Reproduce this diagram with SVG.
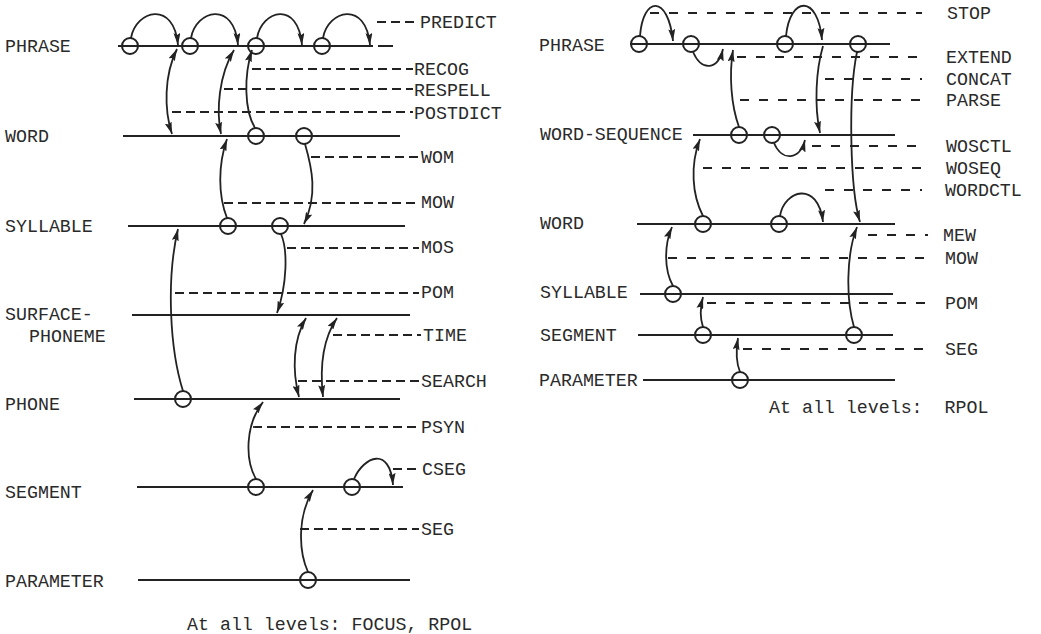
<svg xmlns="http://www.w3.org/2000/svg" width="1041" height="634" viewBox="0 0 1041 634">
<defs>
<marker id="ah" viewBox="0 0 12 7" refX="12" refY="3.5" markerWidth="12" markerHeight="7" markerUnits="userSpaceOnUse" orient="auto-start-reverse">
<path d="M0,0 L12,3.5 L0,7 L2,3.5 z" fill="#222"/>
</marker>
<style>
.lv{stroke:#222;stroke-width:2;fill:none}
.c{stroke:#222;stroke-width:2;fill:none}
.t{font-family:"Liberation Mono","DejaVu Sans Mono",monospace;font-size:18.3px;fill:#2a2a2a}
.a{stroke:#222;stroke-width:1.8;fill:none;marker-end:url(#ah)}
.b{stroke:#222;stroke-width:1.8;fill:none;marker-end:url(#ah);marker-start:url(#ah)}
.d{stroke:#222;stroke-width:1.8;stroke-dasharray:9,5;fill:none}
.d2{stroke:#222;stroke-width:1.8;stroke-dasharray:9,10;fill:none}
</style>
</defs>
<rect width="1041" height="634" fill="#fff"/>

<!-- LEFT DIAGRAM LEVELS -->
<g id="L-phrase">
<text class="t" x="5" y="52">PHRASE</text>
<line class="lv" x1="118" y1="46" x2="373" y2="46"/>
<line class="lv" x1="378" y1="46" x2="393" y2="46"/>
<circle class="c" cx="130" cy="46" r="8"/><circle class="c" cx="190" cy="46" r="8"/><circle class="c" cx="256" cy="46" r="8"/><circle class="c" cx="322" cy="46" r="8"/>
</g>
<g id="L-word">
<text class="t" x="5" y="142">WORD</text>
<line class="lv" x1="123" y1="136" x2="400" y2="136"/>
<circle class="c" cx="256" cy="136" r="8"/><circle class="c" cx="304" cy="136" r="8"/>
</g>
<g id="L-syllable">
<text class="t" x="5" y="232">SYLLABLE</text>
<line class="lv" x1="128" y1="226" x2="405" y2="226"/>
<circle class="c" cx="228" cy="226" r="8"/><circle class="c" cx="280" cy="226" r="8"/>
</g>
<g id="L-surface-phoneme">
<text class="t" x="5" y="320">SURFACE-</text>
<text class="t" x="29" y="342">PHONEME</text>
<line class="lv" x1="132" y1="315" x2="410" y2="315"/>
</g>
<g id="L-phone">
<text class="t" x="5" y="410">PHONE</text>
<line class="lv" x1="134" y1="399" x2="400" y2="399"/>
<circle class="c" cx="183" cy="399" r="8"/>
</g>
<g id="L-segment">
<text class="t" x="5" y="498">SEGMENT</text>
<line class="lv" x1="137" y1="487" x2="403" y2="487"/>
<circle class="c" cx="256" cy="487" r="8"/><circle class="c" cx="352" cy="487" r="8"/>
</g>
<g id="L-parameter">
<text class="t" x="5" y="587">PARAMETER</text>
<line class="lv" x1="138" y1="580" x2="410" y2="580"/>
<circle class="c" cx="308" cy="580" r="8"/>
</g>
<text class="t" x="187" y="630">At all levels: FOCUS, RPOL</text>

<!-- LEFT CONNECTORS -->
<g id="L-connectors">
<path class="a" d="M131,38 C136,10 174,0 178,45"/>
<path class="a" d="M191,38 C196,10 234,0 238,45"/>
<path class="a" d="M257,38 C262,10 298,0 302,45"/>
<path class="a" d="M323,38 C328,10 366,0 370,45"/>
<path class="b" d="M177,49 C164,75 164,110 172,134"/>
<path class="b" d="M234,50 C219,75 216,110 221,134"/>
<path class="a" d="M255,128 C244,110 244,75 252,50"/>
<path class="a" d="M305,144 C312,168 318,195 304,224"/>
<path class="a" d="M227,218 C218,195 218,165 227,139"/>
<path class="a" d="M183,391 C170,350 166,280 178,229"/>
<path class="a" d="M281,234 C288,250 287,285 277,313"/>
<path class="b" d="M306,318 C293,340 292,370 299,397"/>
<path class="b" d="M337,318 C322,340 320,370 323,397"/>
<path class="a" d="M256,479 C245,460 245,425 263,402"/>
<path class="a" d="M354,479 C364,456 390,446 393,485"/>
<path class="a" d="M308,572 C298,550 298,515 313,490"/>
<!-- dashed label leaders -->
<path class="d" d="M377,22 H418"/>
<path class="d" d="M252,69 H413"/>
<path class="d" d="M224,89 H413"/>
<path class="d" d="M172,112 H413"/>
<path class="d" d="M311,157 H419"/>
<path class="d" d="M224,203 H419"/>
<path class="d" d="M287,248 H419"/>
<path class="d" d="M175,293 H419"/>
<path class="d" d="M333,335 H421"/>
<path class="d" d="M298,381 H419"/>
<path class="d" d="M253,427 H419"/>
<path class="d" d="M393,469 H420"/>
<path class="d" d="M300,529 H419"/>
</g>
<g id="L-labels">
<text class="t" x="420" y="28">PREDICT</text>
<text class="t" x="414" y="75">RECOG</text>
<text class="t" x="414" y="96">RESPELL</text>
<text class="t" x="414" y="119">POSTDICT</text>
<text class="t" x="421" y="163">WOM</text>
<text class="t" x="421" y="208">MOW</text>
<text class="t" x="421" y="253">MOS</text>
<text class="t" x="421" y="298">POM</text>
<text class="t" x="423" y="341">TIME</text>
<text class="t" x="421" y="387">SEARCH</text>
<text class="t" x="421" y="433">PSYN</text>
<text class="t" x="422" y="475">CSEG</text>
<text class="t" x="421" y="535">SEG</text>
</g>

<!-- RIGHT DIAGRAM LEVELS -->
<g id="R-phrase">
<text class="t" x="539" y="51">PHRASE</text>
<line class="lv" x1="630" y1="44" x2="890" y2="44"/>
<circle class="c" cx="639" cy="44" r="8"/><circle class="c" cx="691" cy="44" r="8"/><circle class="c" cx="785" cy="44" r="8"/><circle class="c" cx="858" cy="44" r="8"/>
</g>
<g id="R-word-sequence">
<text class="t" x="540" y="140">WORD-SEQUENCE</text>
<line class="lv" x1="693" y1="135" x2="895" y2="135"/>
<circle class="c" cx="739" cy="135" r="8"/><circle class="c" cx="772" cy="135" r="8"/>
</g>
<g id="R-word">
<text class="t" x="540" y="229">WORD</text>
<line class="lv" x1="637" y1="224" x2="895" y2="224"/>
<circle class="c" cx="703" cy="224" r="8"/><circle class="c" cx="779" cy="224" r="8"/>
</g>
<g id="R-syllable">
<text class="t" x="540" y="298">SYLLABLE</text>
<line class="lv" x1="640" y1="294" x2="893" y2="294"/>
<circle class="c" cx="673" cy="294" r="8"/>
</g>
<g id="R-segment">
<text class="t" x="540" y="341">SEGMENT</text>
<line class="lv" x1="638" y1="335" x2="893" y2="335"/>
<circle class="c" cx="703" cy="335" r="8"/><circle class="c" cx="854" cy="335" r="8"/>
</g>
<g id="R-parameter">
<text class="t" x="539" y="386">PARAMETER</text>
<line class="lv" x1="643" y1="380" x2="895" y2="380"/>
<circle class="c" cx="740" cy="380" r="8"/>
</g>
<text class="t" x="769" y="413">At all levels:&#160; RPOL</text>

<!-- RIGHT CONNECTORS -->
<g id="R-connectors">
<path class="a" d="M640,36 C643,-4 668,-6 673,41"/>
<path class="a" d="M693,52 C702,72 718,70 723,49"/>
<path class="a" d="M786,36 C790,-4 818,-6 822,40"/>
<path class="a" d="M823,46 C816,70 814,105 820,133"/>
<path class="a" d="M857,52 C848,95 850,190 860,222"/>
<path class="a" d="M739,127 C731,105 729,75 733,50"/>
<path class="a" d="M774,143 C782,162 800,160 805,140"/>
<path class="a" d="M703,216 C692,195 690,165 700,139"/>
<path class="a" d="M780,216 C784,190 818,180 823,222"/>
<path class="a" d="M854,327 C846,300 846,255 857,227"/>
<path class="a" d="M673,286 C664,270 664,245 672,227"/>
<path class="a" d="M703,327 C700,318 700,308 703,297"/>
<path class="a" d="M740,372 C736,362 736,350 738,338"/>
<!-- dashed label leaders -->
<path class="d2" d="M650,13 H922"/>
<path class="d2" d="M737,57 H922"/>
<path class="d2" d="M825,79 H922"/>
<path class="d2" d="M740,100 H922"/>
<path class="d2" d="M812,146 H922"/>
<path class="d2" d="M703,168 H922"/>
<path class="d2" d="M825,190 H922"/>
<path class="d2" d="M868,235 H928"/>
<path class="d2" d="M668,258 H928"/>
<path class="d2" d="M707,303 H928"/>
<path class="d2" d="M743,349 H928"/>
</g>
<g id="R-labels">
<text class="t" x="947" y="19">STOP</text>
<text class="t" x="946" y="63">EXTEND</text>
<text class="t" x="946" y="85">CONCAT</text>
<text class="t" x="946" y="106">PARSE</text>
<text class="t" x="946" y="152">WOSCTL</text>
<text class="t" x="946" y="174">WOSEQ</text>
<text class="t" x="945" y="196">WORDCTL</text>
<text class="t" x="943" y="241">MEW</text>
<text class="t" x="945" y="264">MOW</text>
<text class="t" x="945" y="309">POM</text>
<text class="t" x="945" y="355">SEG</text>
</g>
</svg>
